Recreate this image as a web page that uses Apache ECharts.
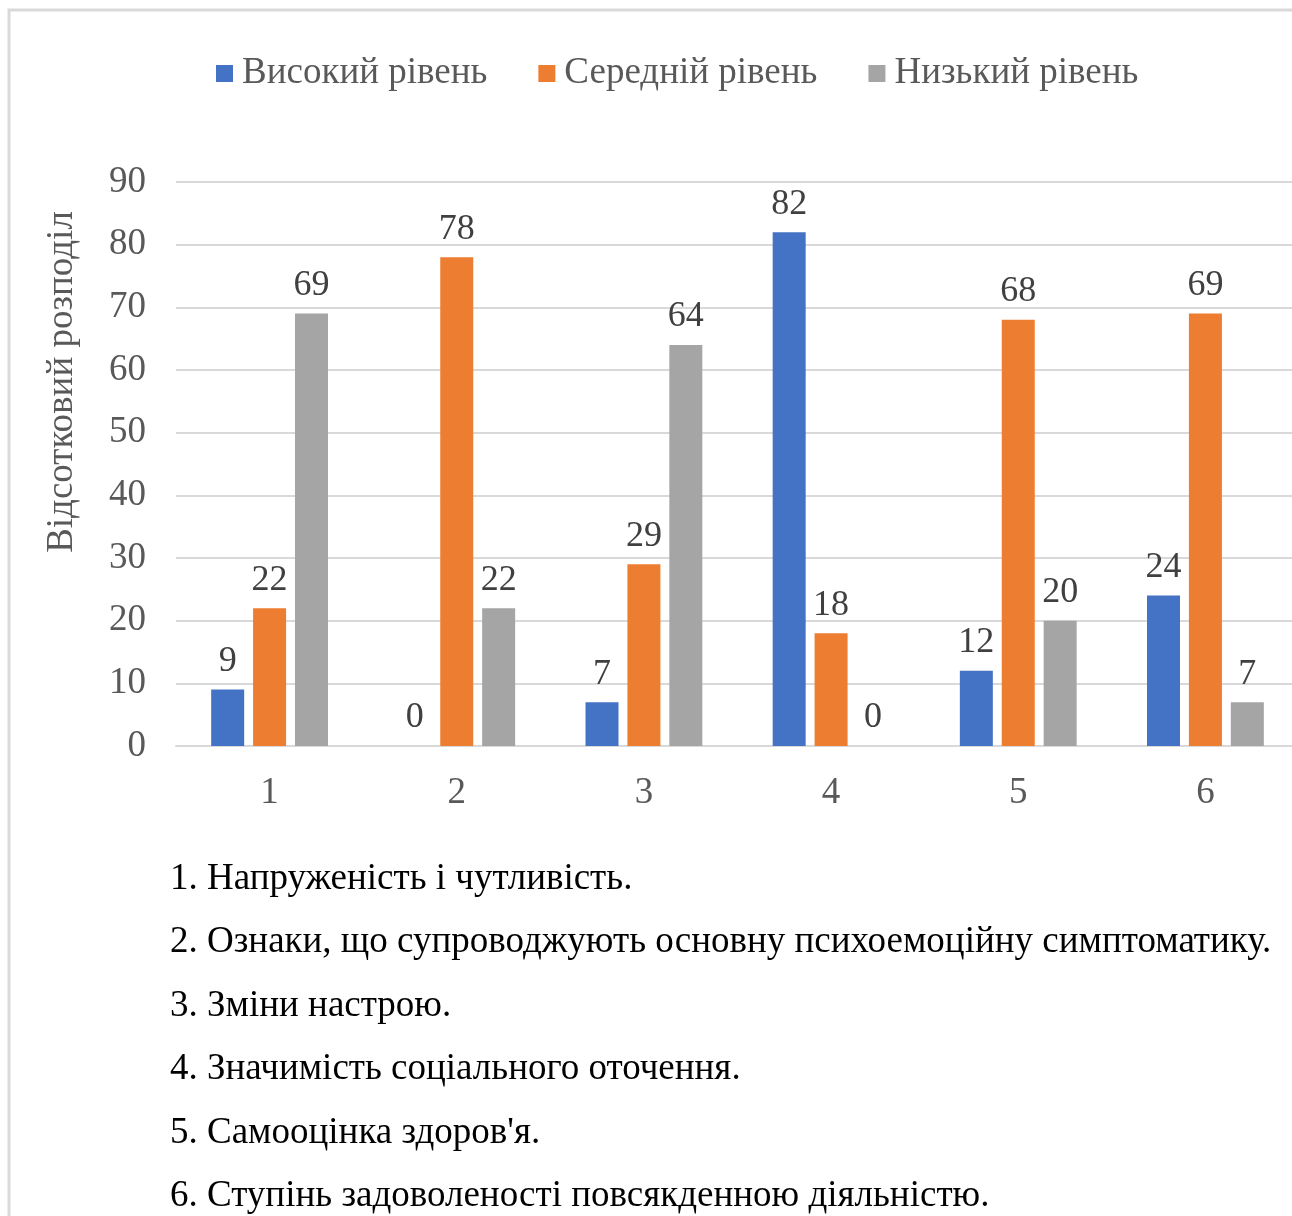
<!DOCTYPE html>
<html>
<head>
<meta charset="utf-8">
<script src="https://cdn.jsdelivr.net/npm/echarts@6/dist/echarts.min.js"></script>
<style>html,body{margin:0;padding:0;background:#fff;}#c{width:1292px;height:1216px;}</style>
</head>
<body>
<div id="c"></div>
<script>
const categories = ['1', '2', '3', '4', '5', '6'];
const seriesNames = ['Високий рівень', 'Середній рівень', 'Низький рівень'];
const high = [9, 0, 7, 82, 12, 24];
const medium = [22, 78, 29, 18, 68, 69];
const low = [69, 22, 64, 0, 20, 7];
const yTicks = { min: 0, max: 90, interval: 10 };
const yAxisTitle = 'Відсотковий розподіл';
const notes = [
  '1. Напруженість і чутливість.',
  '2. Ознаки, що супроводжують основну психоемоційну симптоматику.',
  '3. Зміни настрою.',
  '4. Значимість соціального оточення.',
  '5. Самооцінка здоров\'я.',
  '6. Ступінь задоволеності повсякденною діяльністю.'
];

const FONT = '"Liberation Serif", "DejaVu Serif", serif';
const colors = ['#4472c4', '#ed7d31', '#a5a5a5'];
const chart = echarts.init(document.getElementById('c'));

const noteY = [879, 942, 1006, 1069, 1133, 1196];
const graphics = [
  { type: 'rect', shape: { x: 9, y: 10, width: 1300, height: 1300 }, style: { fill: 'none', stroke: '#d9d9d9', lineWidth: 3 }, silent: true },
  { type: 'text', x: 62, y: 382, rotation: Math.PI / 2, style: { text: yAxisTitle, font: '37px ' + FONT, fill: '#595959', textAlign: 'center', textVerticalAlign: 'middle' } }
];
notes.forEach((t, i) => {
  graphics.push({ type: 'text', x: 170, y: noteY[i], style: { text: t, font: '37px ' + FONT, fill: '#000', textAlign: 'left', textVerticalAlign: 'middle' } });
});

const mk = (name, data, i) => ({
  name, type: 'bar', data, barWidth: 33, barGap: '27%',
  itemStyle: { color: colors[i] },
  label: { show: true, position: 'top', distance: 10, color: '#404040', fontFamily: FONT, fontSize: 36 }
});

chart.setOption({
  animation: false,
  textStyle: { fontFamily: FONT },
  legend: {
    top: 50, left: 211, itemWidth: 17, itemHeight: 17, itemGap: 51,
    icon: 'rect',
    textStyle: { fontFamily: FONT, fontSize: 37, color: '#595959', padding: [0, 0, 0, 4] },
    data: seriesNames
  },
  grid: { left: 176, width: 1123, top: 182, height: 564, containLabel: false, outerBoundsMode: 'none' },
  xAxis: {
    type: 'category', data: categories,
    axisLine: { lineStyle: { color: '#d9d9d9', width: 2 } },
    axisTick: { show: false },
    axisLabel: { color: '#595959', fontFamily: FONT, fontSize: 37, margin: 29 }
  },
  yAxis: {
    type: 'value', min: yTicks.min, max: yTicks.max, interval: yTicks.interval,
    axisLine: { show: false }, axisTick: { show: false },
    splitLine: { lineStyle: { color: '#d9d9d9', width: 2 } },
    axisLabel: { color: '#595959', fontFamily: FONT, fontSize: 37, margin: 30 }
  },
  graphic: graphics,
  series: [mk(seriesNames[0], high, 0), mk(seriesNames[1], medium, 1), mk(seriesNames[2], low, 2)]
});
</script>
</body>
</html>
